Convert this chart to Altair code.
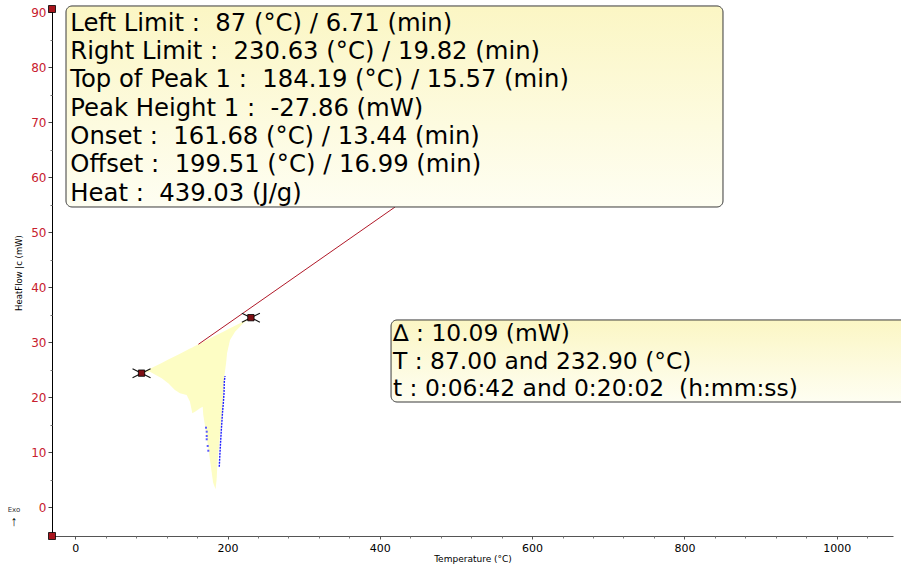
import altair as alt
import pandas as pd

# ---- DSC melting peak: heat flow (mW) against temperature (°C) ----
temp_c = [87.0, 98.1, 113.5, 122.1, 130.9, 137.5, 146.3, 150.6, 153.7, 157.2,
          163.8, 167.3, 168.1, 172.6, 176.9, 181.0, 184.2, 185.6, 187.0, 189.1,
          191.0, 193.1, 194.4, 195.7, 198.3, 199.3, 203.2, 209.8, 220.6, 230.63]
heat_flow_mw = [24.40, 24.66, 23.46, 22.55, 21.34, 20.73, 20.43, 19.21, 17.10, 17.39,
                18.01, 18.30, 16.79, 12.84, 8.60, 4.50, 3.30, 5.00, 8.60, 11.64,
                14.66, 17.70, 20.73, 23.75, 26.50, 28.00, 30.43, 31.94, 33.47, 34.49]

# integration limits (°C, mW) and onset temperature
limit_temp_c = [87.0, 230.63]
limit_heat_flow_mw = [24.40, 34.49]
onset_temp_c = 161.68

# sampled points of the raw signal trace that remain visible
trace_a_temp_c = [196.6, 195.7, 195.3, 194.4, 193.6, 192.7, 191.8, 191.0, 190.0, 189.1]
trace_a_heat_flow_mw = [23.88, 22.85, 20.73, 18.92, 17.70, 15.88, 14.06, 12.24, 9.82, 7.38]
trace_b_temp_c = [171.7, 172.6, 172.6, 172.6, 173.9, 174.7]
trace_b_heat_flow_mw = [14.48, 13.75, 12.97, 12.37, 11.15, 10.29]

# axis ticks
x_major = [0, 200, 400, 600, 800, 1000]
x_minor = [40, 80, 120, 160, 240, 280, 320, 360, 440, 480, 520, 560,
           640, 680, 720, 760, 840, 880, 920, 960, 1040]
y_major = [0, 10, 20, 30, 40, 50, 60, 70, 80, 90]
y_minor = [-5, 5, 15, 25, 35, 45, 55, 65, 75, 85]

# result texts
peak_lines = [
    "Left Limit :  87 (°C) / 6.71 (min)",
    "Right Limit :  230.63 (°C) / 19.82 (min)",
    "Top of Peak 1 :  184.19 (°C) / 15.57 (min)",
    "Peak Height 1 :  -27.86 (mW)",
    "Onset :  161.68 (°C) / 13.44 (min)",
    "Offset :  199.51 (°C) / 16.99 (min)",
    "Heat :  439.03 (J/g)",
]
delta_lines = [
    "∆ : 10.09 (mW)",
    "T : 87.00 and 232.90 (°C)",
    "t : 0:06:42 and 0:20:02  (h:mm:ss)",
]

# ---- layout (data units) ----
X_DOMAIN = [-30.6, 1074.0]
Y_DOMAIN = [-5.22, 90.63]
PEAK_BOX = dict(x=-12.2, x2=850.7, y=91.18, y2=54.62)
PEAK_TEXT = dict(x=-6.6, y=86.69)
DELTA_BOX = dict(x=414.7, x2=1110.0, y=34.07, y2=19.15)
DELTA_TEXT = dict(x=417.3, y=30.16)
LEADER_END = dict(x=420.0, y=PEAK_BOX["y2"])
EXO_POS = dict(x=-80.5, y=-0.49, y_arrow=-2.75)

FONT = "DejaVu Sans"
RED = "#c8202e"


def keep_spaces(s):
    # SVG collapses runs of spaces; keep the double gaps visible
    return s.replace("  ", " \u00a0")


xs = alt.Scale(domain=X_DOMAIN, nice=False, zero=False)
ys = alt.Scale(domain=Y_DOMAIN, nice=False, zero=False)


def X(field, axis=None):
    return alt.X(field, type="quantitative", scale=xs, axis=axis)


def Y(field, axis=None):
    return alt.Y(field, type="quantitative", scale=ys, axis=axis)


# baseline between the two limits
slope = (limit_heat_flow_mw[1] - limit_heat_flow_mw[0]) / (limit_temp_c[1] - limit_temp_c[0])
curve = pd.DataFrame({"t": temp_c, "hf": heat_flow_mw})
curve["base"] = limit_heat_flow_mw[0] + (curve["t"] - limit_temp_c[0]) * slope

onset_base = limit_heat_flow_mw[0] + (onset_temp_c - limit_temp_c[0]) * slope

x_axis = alt.Axis(values=x_major, format="d", title="Temperature (°C)", orient="bottom",
                  grid=False, tickSize=3, labelPadding=3, labelFont=FONT, labelFontSize=11,
                  labelColor="#000000", domainColor="#555555", tickColor="#555555",
                  titleFont=FONT, titleFontSize=9, titleFontWeight="normal",
                  titleColor="#000000", titlePadding=1, labelFlush=False)
y_axis = alt.Axis(values=y_major, format="d", title="HeatFlow |c (mW)", orient="left",
                  grid=False, tickSize=4, labelPadding=2, labelFont=FONT, labelFontSize=12,
                  labelColor=RED, domainColor="#000000", tickColor="#444444",
                  titleFont=FONT, titleFontSize=8.5, titleFontWeight="normal",
                  titleColor="#000000", titlePadding=7, labelFlush=False)
x_minor_axis = alt.Axis(values=x_minor, orient="bottom", labels=False, domain=False,
                        grid=False, tickSize=2, tickColor="#777777", title=None)
y_minor_axis = alt.Axis(values=y_minor, orient="left", labels=False, domain=False,
                        grid=False, tickSize=2, tickColor="#777777", title=None)

peak_area = alt.Chart(curve).mark_area(color="#fdfdc4", opacity=1).encode(
    x=X("t", x_axis), y=Y("hf", y_axis), y2="base:Q"
)

minor = alt.Chart(curve).mark_point(opacity=0).encode(
    x=X("t", x_minor_axis), y=Y("hf", y_minor_axis)
)

leader_df = pd.DataFrame({"t": [onset_temp_c], "hf": [onset_base],
                          "t2": [LEADER_END["x"]], "hf2": [LEADER_END["y"]]})
leader = alt.Chart(leader_df).mark_rule(color="#b01828", strokeWidth=1).encode(
    x=X("t"), y=Y("hf"), x2="t2:Q", y2="hf2:Q"
)

trace_a = alt.Chart(pd.DataFrame({"t": trace_a_temp_c, "hf": trace_a_heat_flow_mw})).mark_line(
    color="#1e1eff", strokeWidth=1.4, strokeDash=[2, 1]
).encode(x=X("t"), y=Y("hf"))

trace_b = alt.Chart(pd.DataFrame({"t": trace_b_temp_c, "hf": trace_b_heat_flow_mw})).mark_square(
    color="#5a5aff", size=4, opacity=1
).encode(x=X("t"), y=Y("hf"))

limits_df = pd.DataFrame({"t": limit_temp_c, "hf": limit_heat_flow_mw})
limit_cross = alt.Chart(limits_df).mark_point(
    shape="M-1,-0.5L1,0.5M-1,0.5L1,-0.5", size=324, filled=False,
    stroke="#111111", strokeWidth=1.1, opacity=1
).encode(x=X("t"), y=Y("hf"))
limit_box = alt.Chart(limits_df).mark_square(
    size=40, color="#7e0f14", stroke="#000000", strokeWidth=0.8, opacity=1
).encode(x=X("t"), y=Y("hf"))

# red end markers of the heat-flow axis
ends_df = pd.DataFrame({"t": [X_DOMAIN[0], X_DOMAIN[0]], "hf": [Y_DOMAIN[1], Y_DOMAIN[0]]})
axis_ends = alt.Chart(ends_df).mark_square(
    size=49, color="#a8141c", stroke="#000000", strokeWidth=0.8, opacity=1
).encode(x=X("t"), y=Y("hf"))

box_fill = alt.Gradient(
    gradient="linear", x1=0, x2=0, y1=0, y2=1,
    stops=[alt.GradientStop(color="#fbf6c4", offset=0),
           alt.GradientStop(color="#fdfbe0", offset=0.6),
           alt.GradientStop(color="#fefef2", offset=1)],
)


def callout(box, text_pos, lines, font_size, line_height):
    bdf = pd.DataFrame({"t": [box["x"]], "t2": [box["x2"]], "hf": [box["y"]], "hf2": [box["y2"]]})
    shadow = alt.Chart(bdf).mark_rect(
        color="#8c8c8c", cornerRadius=6, xOffset=2, yOffset=2, opacity=0.8
    ).encode(x=X("t"), x2="t2:Q", y=Y("hf"), y2="hf2:Q")
    panel = alt.Chart(bdf).mark_rect(
        color=box_fill, cornerRadius=6, stroke="#3a3a3a", strokeWidth=1
    ).encode(x=X("t"), x2="t2:Q", y=Y("hf"), y2="hf2:Q")
    tdf = pd.DataFrame({"t": [text_pos["x"]], "hf": [text_pos["y"]]})
    label = alt.Chart(tdf).mark_text(
        text=[keep_spaces(s) for s in lines], align="left", baseline="alphabetic",
        font=FONT, fontSize=font_size, lineHeight=line_height, color="#000000"
    ).encode(x=X("t"), y=Y("hf"))
    return [shadow, panel, label]


exo_df = pd.DataFrame({"t": [EXO_POS["x"]], "hf": [EXO_POS["y"]]})
exo_text = alt.Chart(exo_df).mark_text(
    text="Exo", font=FONT, fontSize=7, color="#333333", baseline="middle", align="center"
).encode(x=X("t"), y=Y("hf"))
arrow_df = pd.DataFrame({"t": [EXO_POS["x"]], "hf": [EXO_POS["y_arrow"]]})
exo_arrow = alt.Chart(arrow_df).mark_text(
    text="↑", font="Liberation Sans", fontSize=14, color="#000000",
    baseline="middle", align="center"
).encode(x=X("t"), y=Y("hf"))

layers = [peak_area, minor, trace_a, trace_b, leader, limit_cross, limit_box]
layers += callout(PEAK_BOX, PEAK_TEXT, peak_lines, 24.3, 28.33)
layers += callout(DELTA_BOX, DELTA_TEXT, delta_lines, 23.4, 27.3)
layers += [axis_ends, exo_text, exo_arrow]

chart = alt.layer(*layers).resolve_axis(x="independent", y="independent").properties(
    width=841, height=527,
    autosize=alt.AutoSizeParams(type="none"),
    padding={"left": 52, "top": 9, "right": 8, "bottom": 28},
    background="#ffffff",
).configure_view(strokeOpacity=0)

chart.save("out.html", embed_options={"renderer": "svg", "actions": False})
